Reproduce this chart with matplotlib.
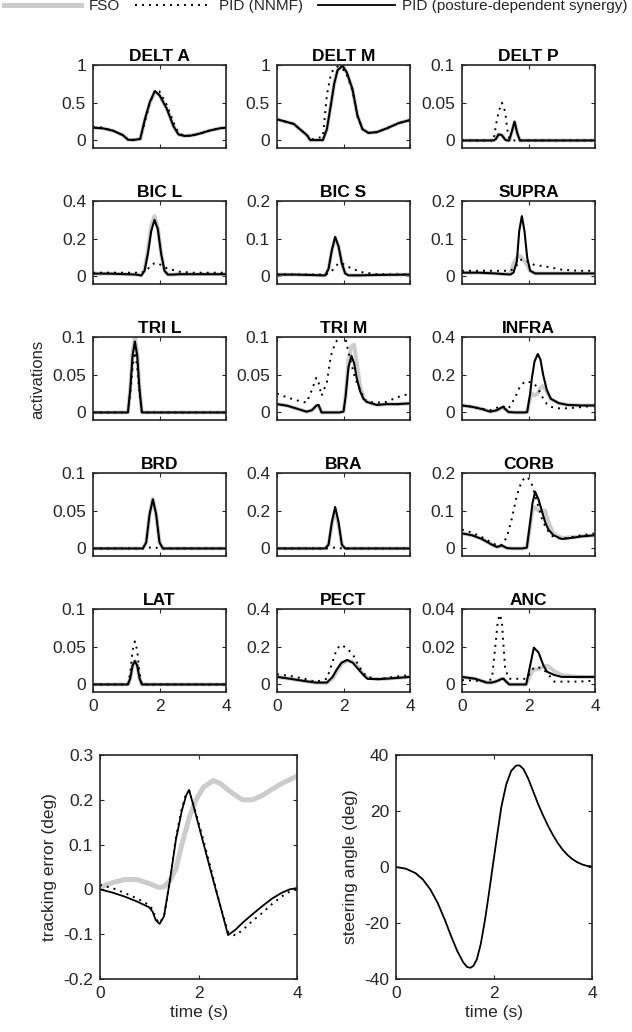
import numpy as np
import matplotlib
matplotlib.use("Agg")
import matplotlib.pyplot as plt
from matplotlib.ticker import FuncFormatter
from matplotlib.lines import Line2D

plt.rcParams['font.family'] = ['Liberation Sans', 'DejaVu Sans']
plt.rcParams['axes.unicode_minus'] = False

# ---- muscle activations (time knots + FSO / PID-NNMF / PID-synergy values) ----
t_delt_a = [0, 0.3, 0.6, 0.9, 1.05, 1.2, 1.42, 1.56, 1.71, 1.86, 2.0, 2.22, 2.42, 2.57, 2.75, 2.95, 3.2, 3.5, 3.8, 4.0]
fso_delt_a = [0.17, 0.16, 0.13, 0.07, 0.01, 0.005, 0.02, 0.27, 0.5, 0.64, 0.6, 0.42, 0.19, 0.08, 0.06, 0.065, 0.09, 0.13, 0.16, 0.17]
nnmf_delt_a = [0.18, 0.17, 0.13, 0.07, 0.015, 0.01, 0.02, 0.25, 0.5, 0.66, 0.65, 0.47, 0.24, 0.1, 0.06, 0.06, 0.085, 0.13, 0.16, 0.17]
syn_delt_a = [0.17, 0.16, 0.13, 0.07, 0.01, 0.005, 0.02, 0.28, 0.51, 0.655, 0.6, 0.42, 0.19, 0.08, 0.06, 0.065, 0.09, 0.13, 0.16, 0.17]

t_delt_m = [0, 0.5, 0.9, 1.0, 1.38, 1.5, 1.62, 1.72, 1.82, 1.97, 2.1, 2.27, 2.42, 2.57, 2.75, 3.0, 3.3, 3.66, 4.0]
fso_delt_m = [0.28, 0.22, 0.07, 0.005, 0.005, 0.15, 0.47, 0.75, 0.93, 0.99, 0.9, 0.68, 0.33, 0.15, 0.1, 0.11, 0.16, 0.23, 0.27]
nnmf_delt_m = [0.28, 0.22, 0.07, 0.01, 0.05, 0.6, 0.88, 0.96, 0.98, 0.95, 0.87, 0.66, 0.32, 0.15, 0.1, 0.11, 0.16, 0.23, 0.27]
syn_delt_m = [0.28, 0.22, 0.07, 0.005, 0.005, 0.15, 0.47, 0.75, 0.93, 0.99, 0.9, 0.68, 0.33, 0.15, 0.1, 0.11, 0.16, 0.23, 0.27]

t_delt_p = [0, 0.95, 1.02, 1.1, 1.2, 1.3, 1.36, 1.42, 1.5, 1.58, 1.66, 1.74, 4.0]
fso_delt_p = [0, 0, 0.002, 0.008, 0.007, 0.001, 0, 0, 0.012, 0.024, 0.01, 0, 0]
nnmf_delt_p = [0, 0, 0.02, 0.038, 0.05, 0.038, 0.015, 0.002, 0, 0, 0, 0, 0]
syn_delt_p = [0, 0, 0.002, 0.008, 0.007, 0.001, 0, 0, 0.012, 0.025, 0.01, 0, 0]

t_bic_l = [0, 0.5, 1.0, 1.3, 1.45, 1.55, 1.65, 1.75, 1.85, 1.95, 2.05, 2.15, 2.25, 2.4, 2.6, 3.0, 3.5, 4.0]
fso_bic_l = [0.015, 0.015, 0.012, 0.01, 0.005, 0.035, 0.14, 0.27, 0.32, 0.26, 0.12, 0.03, 0.01, 0.01, 0.012, 0.012, 0.012, 0.012]
nnmf_bic_l = [0.02, 0.02, 0.02, 0.02, 0.02, 0.025, 0.04, 0.06, 0.07, 0.07, 0.06, 0.05, 0.04, 0.035, 0.025, 0.02, 0.02, 0.02]
syn_bic_l = [0.015, 0.015, 0.012, 0.01, 0.005, 0.03, 0.12, 0.24, 0.3, 0.25, 0.12, 0.03, 0.01, 0.01, 0.012, 0.012, 0.012, 0.012]

t_bic_s = [0, 0.5, 1.0, 1.3, 1.45, 1.55, 1.65, 1.75, 1.85, 1.95, 2.05, 2.15, 2.3, 2.5, 3.0, 4.0]
fso_bic_s = [0.005, 0.005, 0.004, 0.003, 0.003, 0.02, 0.07, 0.1, 0.08, 0.035, 0.008, 0.003, 0.003, 0.003, 0.004, 0.005]
nnmf_bic_s = [0.005, 0.005, 0.005, 0.005, 0.005, 0.008, 0.015, 0.025, 0.035, 0.035, 0.03, 0.025, 0.02, 0.012, 0.006, 0.005]
syn_bic_s = [0.005, 0.005, 0.004, 0.003, 0.003, 0.02, 0.07, 0.105, 0.08, 0.035, 0.008, 0.003, 0.003, 0.003, 0.004, 0.005]

t_supra = [0, 0.5, 1.0, 1.3, 1.45, 1.55, 1.65, 1.72, 1.8, 1.88, 1.96, 2.05, 2.2, 2.4, 2.6, 3.0, 3.5, 4.0]
fso_supra = [0.01, 0.01, 0.008, 0.006, 0.008, 0.035, 0.05, 0.055, 0.05, 0.04, 0.03, 0.015, 0.008, 0.008, 0.008, 0.008, 0.008, 0.008]
nnmf_supra = [0.015, 0.015, 0.015, 0.015, 0.015, 0.02, 0.03, 0.04, 0.045, 0.045, 0.04, 0.035, 0.03, 0.028, 0.025, 0.018, 0.015, 0.015]
syn_supra = [0.01, 0.01, 0.008, 0.006, 0.005, 0.01, 0.04, 0.12, 0.16, 0.12, 0.05, 0.015, 0.008, 0.008, 0.008, 0.008, 0.008, 0.008]

t_tri_l = [0, 1.05, 1.12, 1.19, 1.26, 1.33, 1.4, 1.47, 4.0]
fso_tri_l = [0, 0, 0.032, 0.08, 0.1, 0.08, 0.032, 0, 0]
nnmf_tri_l = [0, 0, 0.025, 0.06, 0.08, 0.06, 0.025, 0, 0]
syn_tri_l = [0, 0, 0.03, 0.075, 0.094, 0.075, 0.03, 0, 0]

t_tri_m = [0, 0.3, 0.6, 0.89, 1.05, 1.18, 1.25, 1.34, 1.5, 1.62, 1.75, 1.88, 2.0, 2.06, 2.15, 2.24, 2.32, 2.4, 2.5, 2.6, 2.7, 3.0, 3.3, 3.6, 4.0]
fso_tri_m = [0.011, 0.009, 0.005, 0.001, 0.003, 0.008, 0.009, 0, 0, 0, 0, 0, 0.002, 0.02, 0.07, 0.088, 0.09, 0.065, 0.035, 0.02, 0.014, 0.01, 0.011, 0.011, 0.012]
nnmf_tri_m = [0.025, 0.02, 0.016, 0.013, 0.03, 0.046, 0.04, 0.022, 0.04, 0.075, 0.092, 0.1, 0.1, 0.098, 0.08, 0.064, 0.05, 0.04, 0.03, 0.02, 0.014, 0.013, 0.014, 0.02, 0.025]
syn_tri_m = [0.011, 0.009, 0.005, 0.001, 0.003, 0.009, 0.01, 0, 0, 0, 0, 0, 0.001, 0.02, 0.06, 0.075, 0.065, 0.045, 0.028, 0.018, 0.014, 0.01, 0.011, 0.011, 0.012]

t_infra = [0, 0.3, 0.6, 0.85, 1.05, 1.23, 1.4, 1.6, 1.75, 1.9, 1.96, 2.05, 2.1, 2.18, 2.28, 2.36, 2.44, 2.55, 2.67, 2.9, 3.17, 3.57, 4.0]
fso_infra = [0.037, 0.03, 0.018, 0.004, 0.012, 0.028, 0.002, 0, 0, 0, 0.002, 0.08, 0.1, 0.09, 0.1, 0.13, 0.14, 0.11, 0.07, 0.05, 0.04, 0.037, 0.037]
nnmf_infra = [0.037, 0.03, 0.02, 0.012, 0.025, 0.033, 0.02, 0.08, 0.14, 0.165, 0.165, 0.16, 0.155, 0.15, 0.13, 0.1, 0.075, 0.045, 0.03, 0.022, 0.022, 0.028, 0.037]
syn_infra = [0.037, 0.03, 0.018, 0.004, 0.012, 0.03, 0.002, 0, 0, 0, 0.002, 0.1, 0.18, 0.27, 0.31, 0.28, 0.2, 0.12, 0.073, 0.05, 0.04, 0.037, 0.037]

t_brd = [0, 1.5, 1.6, 1.7, 1.8, 1.9, 2.0, 2.1, 4.0]
fso_brd = [0, 0, 0.008, 0.045, 0.066, 0.045, 0.008, 0, 0]
nnmf_brd = [0, 0, 0, 0.001, 0.002, 0.001, 0, 0, 0]
syn_brd = [0, 0, 0.008, 0.045, 0.065, 0.045, 0.008, 0, 0]

t_bra = [0, 1.45, 1.55, 1.65, 1.75, 1.85, 1.95, 2.05, 4.0]
fso_bra = [0, 0, 0.02, 0.13, 0.2, 0.13, 0.02, 0, 0]
nnmf_bra = [0, 0, 0, 0.003, 0.005, 0.003, 0, 0, 0]
syn_bra = [0, 0, 0.02, 0.14, 0.22, 0.14, 0.02, 0, 0]

t_corb = [0, 0.3, 0.6, 0.9, 1.05, 1.2, 1.35, 1.5, 1.65, 1.8, 1.95, 2.05, 2.12, 2.2, 2.3, 2.4, 2.5, 2.6, 2.75, 3.0, 3.3, 3.6, 4.0]
fso_corb = [0.04, 0.035, 0.025, 0.01, 0.004, 0.007, 0.001, 0, 0, 0, 0.002, 0.06, 0.1, 0.11, 0.1, 0.1, 0.1, 0.07, 0.04, 0.028, 0.03, 0.032, 0.035]
nnmf_corb = [0.05, 0.042, 0.03, 0.015, 0.008, 0.01, 0.03, 0.08, 0.14, 0.18, 0.19, 0.18, 0.165, 0.14, 0.11, 0.08, 0.06, 0.045, 0.03, 0.025, 0.03, 0.035, 0.04]
syn_corb = [0.04, 0.035, 0.025, 0.01, 0.004, 0.008, 0.001, 0, 0, 0, 0.002, 0.07, 0.12, 0.15, 0.13, 0.1, 0.07, 0.05, 0.035, 0.025, 0.028, 0.032, 0.035]

t_lat = [0, 1.05, 1.12, 1.19, 1.26, 1.33, 1.4, 1.47, 4.0]
fso_lat = [0, 0, 0.008, 0.025, 0.031, 0.025, 0.008, 0, 0]
nnmf_lat = [0, 0, 0.015, 0.045, 0.057, 0.045, 0.015, 0, 0]
syn_lat = [0, 0, 0.008, 0.025, 0.031, 0.025, 0.008, 0, 0]

t_pect = [0, 0.4, 0.83, 1.17, 1.5, 1.67, 1.8, 1.94, 2.11, 2.28, 2.45, 2.6, 2.72, 3.05, 3.5, 4.0]
fso_pect = [0.04, 0.03, 0.018, 0.01, 0.008, 0.03, 0.07, 0.11, 0.125, 0.12, 0.09, 0.055, 0.035, 0.028, 0.033, 0.04]
nnmf_pect = [0.054, 0.045, 0.03, 0.014, 0.03, 0.12, 0.19, 0.21, 0.19, 0.16, 0.1, 0.06, 0.04, 0.028, 0.04, 0.05]
syn_pect = [0.04, 0.03, 0.018, 0.01, 0.01, 0.04, 0.08, 0.115, 0.13, 0.115, 0.08, 0.05, 0.03, 0.028, 0.033, 0.04]

t_anc = [0, 0.4, 0.74, 0.9, 1.0, 1.08, 1.14, 1.2, 1.25, 1.3, 1.42, 1.6, 1.93, 2.05, 2.16, 2.3, 2.45, 2.56, 2.78, 3.0, 3.5, 4.0]
fso_anc = [0.004, 0.003, 0.001, 0.001, 0.0015, 0.002, 0.0025, 0.003, 0.003, 0.002, 0, 0, 0, 0.005, 0.008, 0.008, 0.0095, 0.01, 0.007, 0.005, 0.004, 0.004]
nnmf_anc = [0.0023, 0.002, 0.0014, 0.003, 0.02, 0.034, 0.037, 0.033, 0.02, 0.008, 0.003, 0.003, 0.003, 0.006, 0.009, 0.009, 0.008, 0.006, 0.0015, 0.0015, 0.0015, 0.002]
syn_anc = [0.004, 0.003, 0.001, 0.001, 0.0015, 0.002, 0.0025, 0.003, 0.003, 0.002, 0, 0, 0, 0.01, 0.0195, 0.017, 0.01, 0.0067, 0.005, 0.004, 0.004, 0.004]

names = ["DELT A", "DELT M", "DELT P", "BIC L", "BIC S", "SUPRA", "TRI L", "TRI M", "INFRA",
         "BRD", "BRA", "CORB", "LAT", "PECT", "ANC"]
ymax = [1, 1, 0.1, 0.4, 0.2, 0.2, 0.1, 0.1, 0.4, 0.1, 0.4, 0.2, 0.1, 0.4, 0.04]
times = [t_delt_a, t_delt_m, t_delt_p, t_bic_l, t_bic_s, t_supra, t_tri_l, t_tri_m, t_infra,
         t_brd, t_bra, t_corb, t_lat, t_pect, t_anc]
fso = [fso_delt_a, fso_delt_m, fso_delt_p, fso_bic_l, fso_bic_s, fso_supra, fso_tri_l, fso_tri_m, fso_infra,
       fso_brd, fso_bra, fso_corb, fso_lat, fso_pect, fso_anc]
nnmf = [nnmf_delt_a, nnmf_delt_m, nnmf_delt_p, nnmf_bic_l, nnmf_bic_s, nnmf_supra, nnmf_tri_l, nnmf_tri_m, nnmf_infra,
        nnmf_brd, nnmf_bra, nnmf_corb, nnmf_lat, nnmf_pect, nnmf_anc]
syn = [syn_delt_a, syn_delt_m, syn_delt_p, syn_bic_l, syn_bic_s, syn_supra, syn_tri_l, syn_tri_m, syn_infra,
       syn_brd, syn_bra, syn_corb, syn_lat, syn_pect, syn_anc]

# ---- tracking error and steering angle ----
t_track = [0, 0.25, 0.5, 0.75, 1.0, 1.07, 1.13, 1.21, 1.3, 1.42, 1.54, 1.66, 1.75, 1.81, 1.95, 2.1, 2.3, 2.45,
           2.6, 2.75, 2.9, 3.1, 3.3, 3.5, 3.7, 3.85, 4.0]
err_fso = [0.005, 0.015, 0.022, 0.022, 0.013, 0.01, 0.007, 0.004, 0.006, 0.02, 0.045, 0.1, 0.135, 0.16, 0.2, 0.228,
           0.243, 0.236, 0.222, 0.21, 0.2, 0.2, 0.21, 0.224, 0.237, 0.245, 0.253]
err_nnmf = [0.01, 0.003, -0.008, -0.02, -0.035, -0.045, -0.065, -0.075, -0.06, 0.02, 0.115, 0.18, 0.215, 0.22, 0.17,
            0.11, 0.025, -0.04, -0.095, -0.103, -0.09, -0.07, -0.052, -0.032, -0.015, -0.005, 0.0]
err_syn = [0, -0.007, -0.016, -0.027, -0.04, -0.05, -0.068, -0.077, -0.06, 0.02, 0.11, 0.175, 0.21, 0.222, 0.165,
           0.103, 0.02, -0.04, -0.102, -0.09, -0.074, -0.055, -0.037, -0.02, -0.007, 0.0, 0.003]

t_steer = [0, 0.2, 0.4, 0.55, 0.7, 0.85, 1.0, 1.12, 1.25, 1.37, 1.45, 1.52, 1.58, 1.65, 1.73, 1.82, 1.9, 1.98,
           2.07, 2.15, 2.25, 2.35, 2.45, 2.52, 2.6, 2.7, 2.8, 2.9, 3.0, 3.1, 3.2, 3.3, 3.4, 3.5, 3.6, 3.7,
           3.8, 3.9, 4.0]
steer = [0, -0.6, -2.2, -4.5, -8, -12.8, -19, -24.5, -30, -34, -35.7, -36, -35.3, -33, -27.5, -18.5, -9, 1,
         12, 21.5, 29.5, 34.3, 36.2, 36.3, 35, 31.5, 27, 22.5, 18.5, 14.8, 11.5, 8.6, 6.2, 4.3, 2.8, 1.7,
         0.9, 0.4, 0.2]

GRAY = (0.8, 0.8, 0.8)
EDGE = (0.15, 0.15, 0.15)
FS = 12.5
W, H = 632, 1032

fmt = FuncFormatter(lambda v, p: "%g" % round(v, 6) if abs(v) > 1e-9 else "0")


def style(ax):
    for s in ax.spines.values():
        s.set_color(EDGE)
        s.set_linewidth(1.2)
    ax.tick_params(direction="in", length=3, width=0.8, color=EDGE, labelcolor=EDGE,
                   labelsize=FS, top=True, right=True, pad=5)
    ax.yaxis.set_major_formatter(fmt)
    ax.xaxis.set_major_formatter(fmt)


fig = plt.figure(figsize=(W / 100, H / 100), dpi=100)

col_left = [93, 277, 462]
for i, name in enumerate(names):
    r, c = divmod(i, 3)
    top = 65 + 136 * r
    ax = fig.add_axes([col_left[c] / W, 1 - (top + 83) / H, 133 / W, 83 / H])
    ax.plot(times[i], fso[i], color=GRAY, lw=2.8, solid_capstyle="butt")
    ax.plot(times[i], nnmf[i], color="k", lw=1.4, linestyle=(0, (1, 2.6)))
    ax.plot(times[i], syn[i], color="k", lw=1.5)
    m = ymax[i]
    ax.set_xlim(0, 4)
    ax.set_ylim(-0.1 * m, m)
    ax.set_xticks([0, 2, 4])
    ax.set_yticks([0, m / 2, m])
    style(ax)
    if r < 4:
        ax.set_xticklabels([])
    ax.set_title(name, fontsize=FS, fontweight="bold", pad=3)

fig.text(38 / W, 1 - 379 / H, "activations", rotation=90, ha="center", va="center",
         fontsize=12, color=EDGE)

# bottom panels
ax1 = fig.add_axes([100 / W, 1 - 979 / H, 197 / W, 224 / H])
ax1.plot(t_track, err_fso, color=GRAY, lw=3.6)
ax1.plot(t_track, err_nnmf, color="k", lw=1.4, linestyle=(0, (1, 2.6)))
ax1.plot(t_track, err_syn, color="k", lw=1.3)
ax1.set_xlim(0, 4)
ax1.set_ylim(-0.2, 0.3)
ax1.set_xticks([0, 2, 4])
ax1.set_yticks([-0.2, -0.1, 0, 0.1, 0.2, 0.3])
style(ax1)
ax1.set_xlabel("time (s)", fontsize=FS, color=EDGE, labelpad=3)
ax1.set_ylabel("tracking error (deg)", fontsize=FS, color=EDGE, labelpad=4)

ax2 = fig.add_axes([396 / W, 1 - 979 / H, 196 / W, 224 / H])
ax2.plot(t_steer, steer, color="k", lw=1.3)
ax2.set_xlim(0, 4)
ax2.set_ylim(-40, 40)
ax2.set_xticks([0, 2, 4])
ax2.set_yticks([-40, -20, 0, 20, 40])
style(ax2)
ax2.set_xlabel("time (s)", fontsize=FS, color=EDGE, labelpad=3)
ax2.set_ylabel("steering angle (deg)", fontsize=FS, color=EDGE, labelpad=4)

handles = [Line2D([], [], color=GRAY, lw=3.6),
           Line2D([], [], color="k", lw=1.4, linestyle=(0, (1, 2.6))),
           Line2D([], [], color="k", lw=1.3)]
labels = ["FSO", "PID (NNMF)", "PID (posture-dependent synergy)"]
fig.legend(handles, labels, loc="center", bbox_to_anchor=(0.5, 1 - 6 / H), ncol=3,
           frameon=False, fontsize=11, handlelength=5, handletextpad=0.5,
           columnspacing=1.0, labelcolor=EDGE)

fig.savefig("out.png", dpi=100)
